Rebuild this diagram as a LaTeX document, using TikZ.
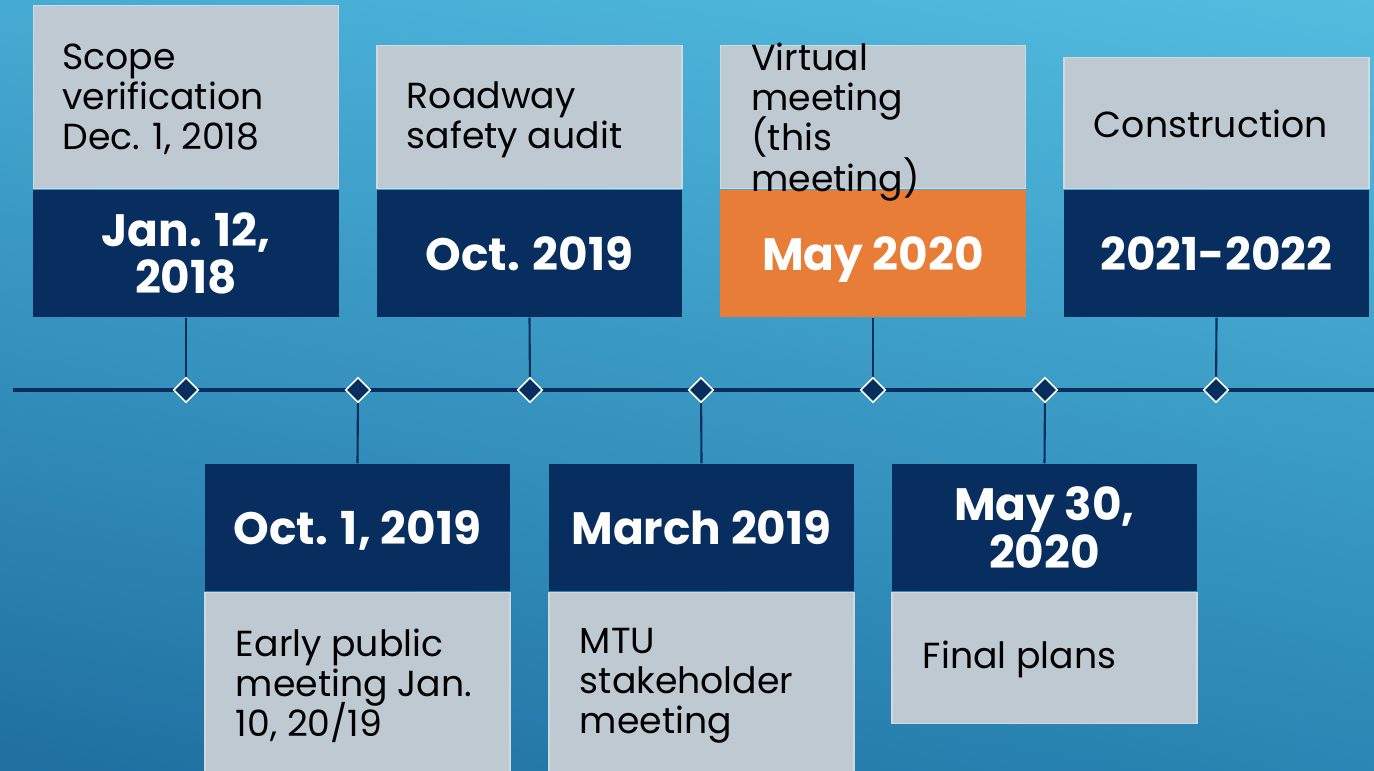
\documentclass[tikz,border=0pt]{standalone}
\usepackage{fontspec}
\setmainfont{Poppins}
\usetikzlibrary{positioning, shapes.geometric, shadings}
\definecolor{Navy}{HTML}{072E5E}
\definecolor{Slate}{HTML}{BEC9D2}
\definecolor{Flame}{HTML}{E87D37}
\definecolor{BgUL}{HTML}{46ABD3}
\definecolor{BgUR}{HTML}{53BCDF}
\definecolor{BgLL}{HTML}{1F6FA1}
\definecolor{BgLR}{HTML}{2A86B4}
\newcommand\tightlines{\lineskiplimit=-20pt\relax}
\newcommand\datefont{\bfseries\fontsize{12.9}{13.4}\selectfont\tightlines}
\newcommand\notefont{\fontsize{10.3}{11.4}\selectfont\tightlines}
\tikzset{
    datebox/.style={rectangle, fill=Navy, text=white, align=center, inner sep=0pt,
        minimum width=3.05cm, minimum height=1.27cm, font=\datefont},
    notebox/.style={rectangle, fill=Slate, draw=Slate!70!white, line width=0.4pt, inner sep=0pt, minimum width=3.05cm},
    notetext/.style={anchor=west, align=left, inner sep=0pt, text=black, font=\notefont},
    marker/.style={diamond, fill=Navy, draw=white, line width=0.45pt, minimum size=0.25cm, inner sep=0pt},
    stem/.style={draw=Navy, line width=0.6pt},
    axis/.style={draw=Navy, line width=1pt},
}

\begin{document}
\begin{tikzpicture}[x=0.01cm, y=-0.01cm]
        \useasboundingbox (0,0) rectangle (1374,771);
        \clip (0,0) rectangle (1374,771);

        % --- Background ---
        \shade[upper left=BgUL, upper right=BgUR, lower left=BgLL, lower right=BgLR] (0,0) rectangle (1374,771);

        % --- Timeline ---
        \coordinate (axisL) at (13,390);
        \coordinate (axisR) at (1374,390);
        \draw[axis] (axisL) -- (axisR);

        % Date boxes (top row, then bottom row)
        \node[datebox] (d1) at (186,253.5)    {Jan. 12,\\2018};
        \node[datebox] (d2) at (529.5,253.5)  {Oct. 2019};
        \node[datebox, fill=Flame, text depth=0pt] (d3) at (873,253.5) {May 2020};
        \node[datebox] (d4) at (1216.5,253.5) {2021-2022};
        \node[datebox, text depth=0pt] (d5) at (357.5,527.5)  {Oct. 1, 2019};
        \node[datebox] (d6) at (701.5,527.5)  {March 2019};
        \node[datebox] (d7) at (1044.5,527.5) {May 30,\\2020};

        % Note boxes
        \node[notebox, minimum height=1.83cm, above=0pt of d1] (g1) {};
        \node[notebox, minimum height=1.43cm, above=0pt of d2] (g2) {};
        \node[notebox, minimum height=1.43cm, above=0pt of d3] (g3) {};
        \node[notebox, minimum height=1.31cm, above=0pt of d4] (g4) {};
        \node[notebox, minimum height=1.90cm, below=0pt of d5] (g5) {};
        \node[notebox, minimum height=1.90cm, below=0pt of d6] (g6) {};
        \node[notebox, minimum height=1.31cm, below=0pt of d7] (g7) {};

        % Note texts
        \node[notetext] (n1) at ([xshift=0.29cm,yshift=-0.02cm]g1.west) {Scope\\verification\\Dec. 1, 2018};
        \node[notetext] (n2) at ([xshift=0.30cm,yshift=-0.03cm]g2.west) {Roadway\\safety audit};
        \node[notetext] (n3) at ([xshift=0.31cm,yshift=-0.05cm]g3.west) {Virtual\\meeting\\(this\\meeting)};
        \node[notetext] (n4) at ([xshift=0.30cm,yshift=-0.01cm]g4.west) {Construction};
        \node[notetext] (n5) at ([xshift=0.31cm,yshift=0.02cm]g5.west) {Early public\\meeting Jan.\\10, 20/19};
        \node[notetext] (n6) at ([xshift=0.31cm,yshift=0.02cm]g6.west) {MTU\\stakeholder\\meeting};
        \node[notetext] (n7) at ([xshift=0.31cm,yshift=-0.01cm]g7.west) {Final plans};

        % Stems
        \coordinate (s1) at (186,390);
        \coordinate (s2) at (358,390);
        \coordinate (s3) at (530,390);
        \coordinate (s4) at (701,390);
        \coordinate (s5) at (873,390);
        \coordinate (s6) at (1045,390);
        \coordinate (s7) at (1216,390);
        \draw[stem] (d1.south) -- (s1);
        \draw[stem] (d2.south) -- (s3);
        \draw[stem] (d3.south) -- (s5);
        \draw[stem] (d4.south) -- (s7);
        \draw[stem] (s2) -- (d5.north);
        \draw[stem] (s4) -- (d6.north);
        \draw[stem] (s6) -- (d7.north);

        % Markers
        \node[marker] (m1) at (s1) {};
        \node[marker] (m2) at (s2) {};
        \node[marker] (m3) at (s3) {};
        \node[marker] (m4) at (s4) {};
        \node[marker] (m5) at (s5) {};
        \node[marker] (m6) at (s6) {};
        \node[marker] (m7) at (s7) {};
    \end{tikzpicture}
\end{document}
